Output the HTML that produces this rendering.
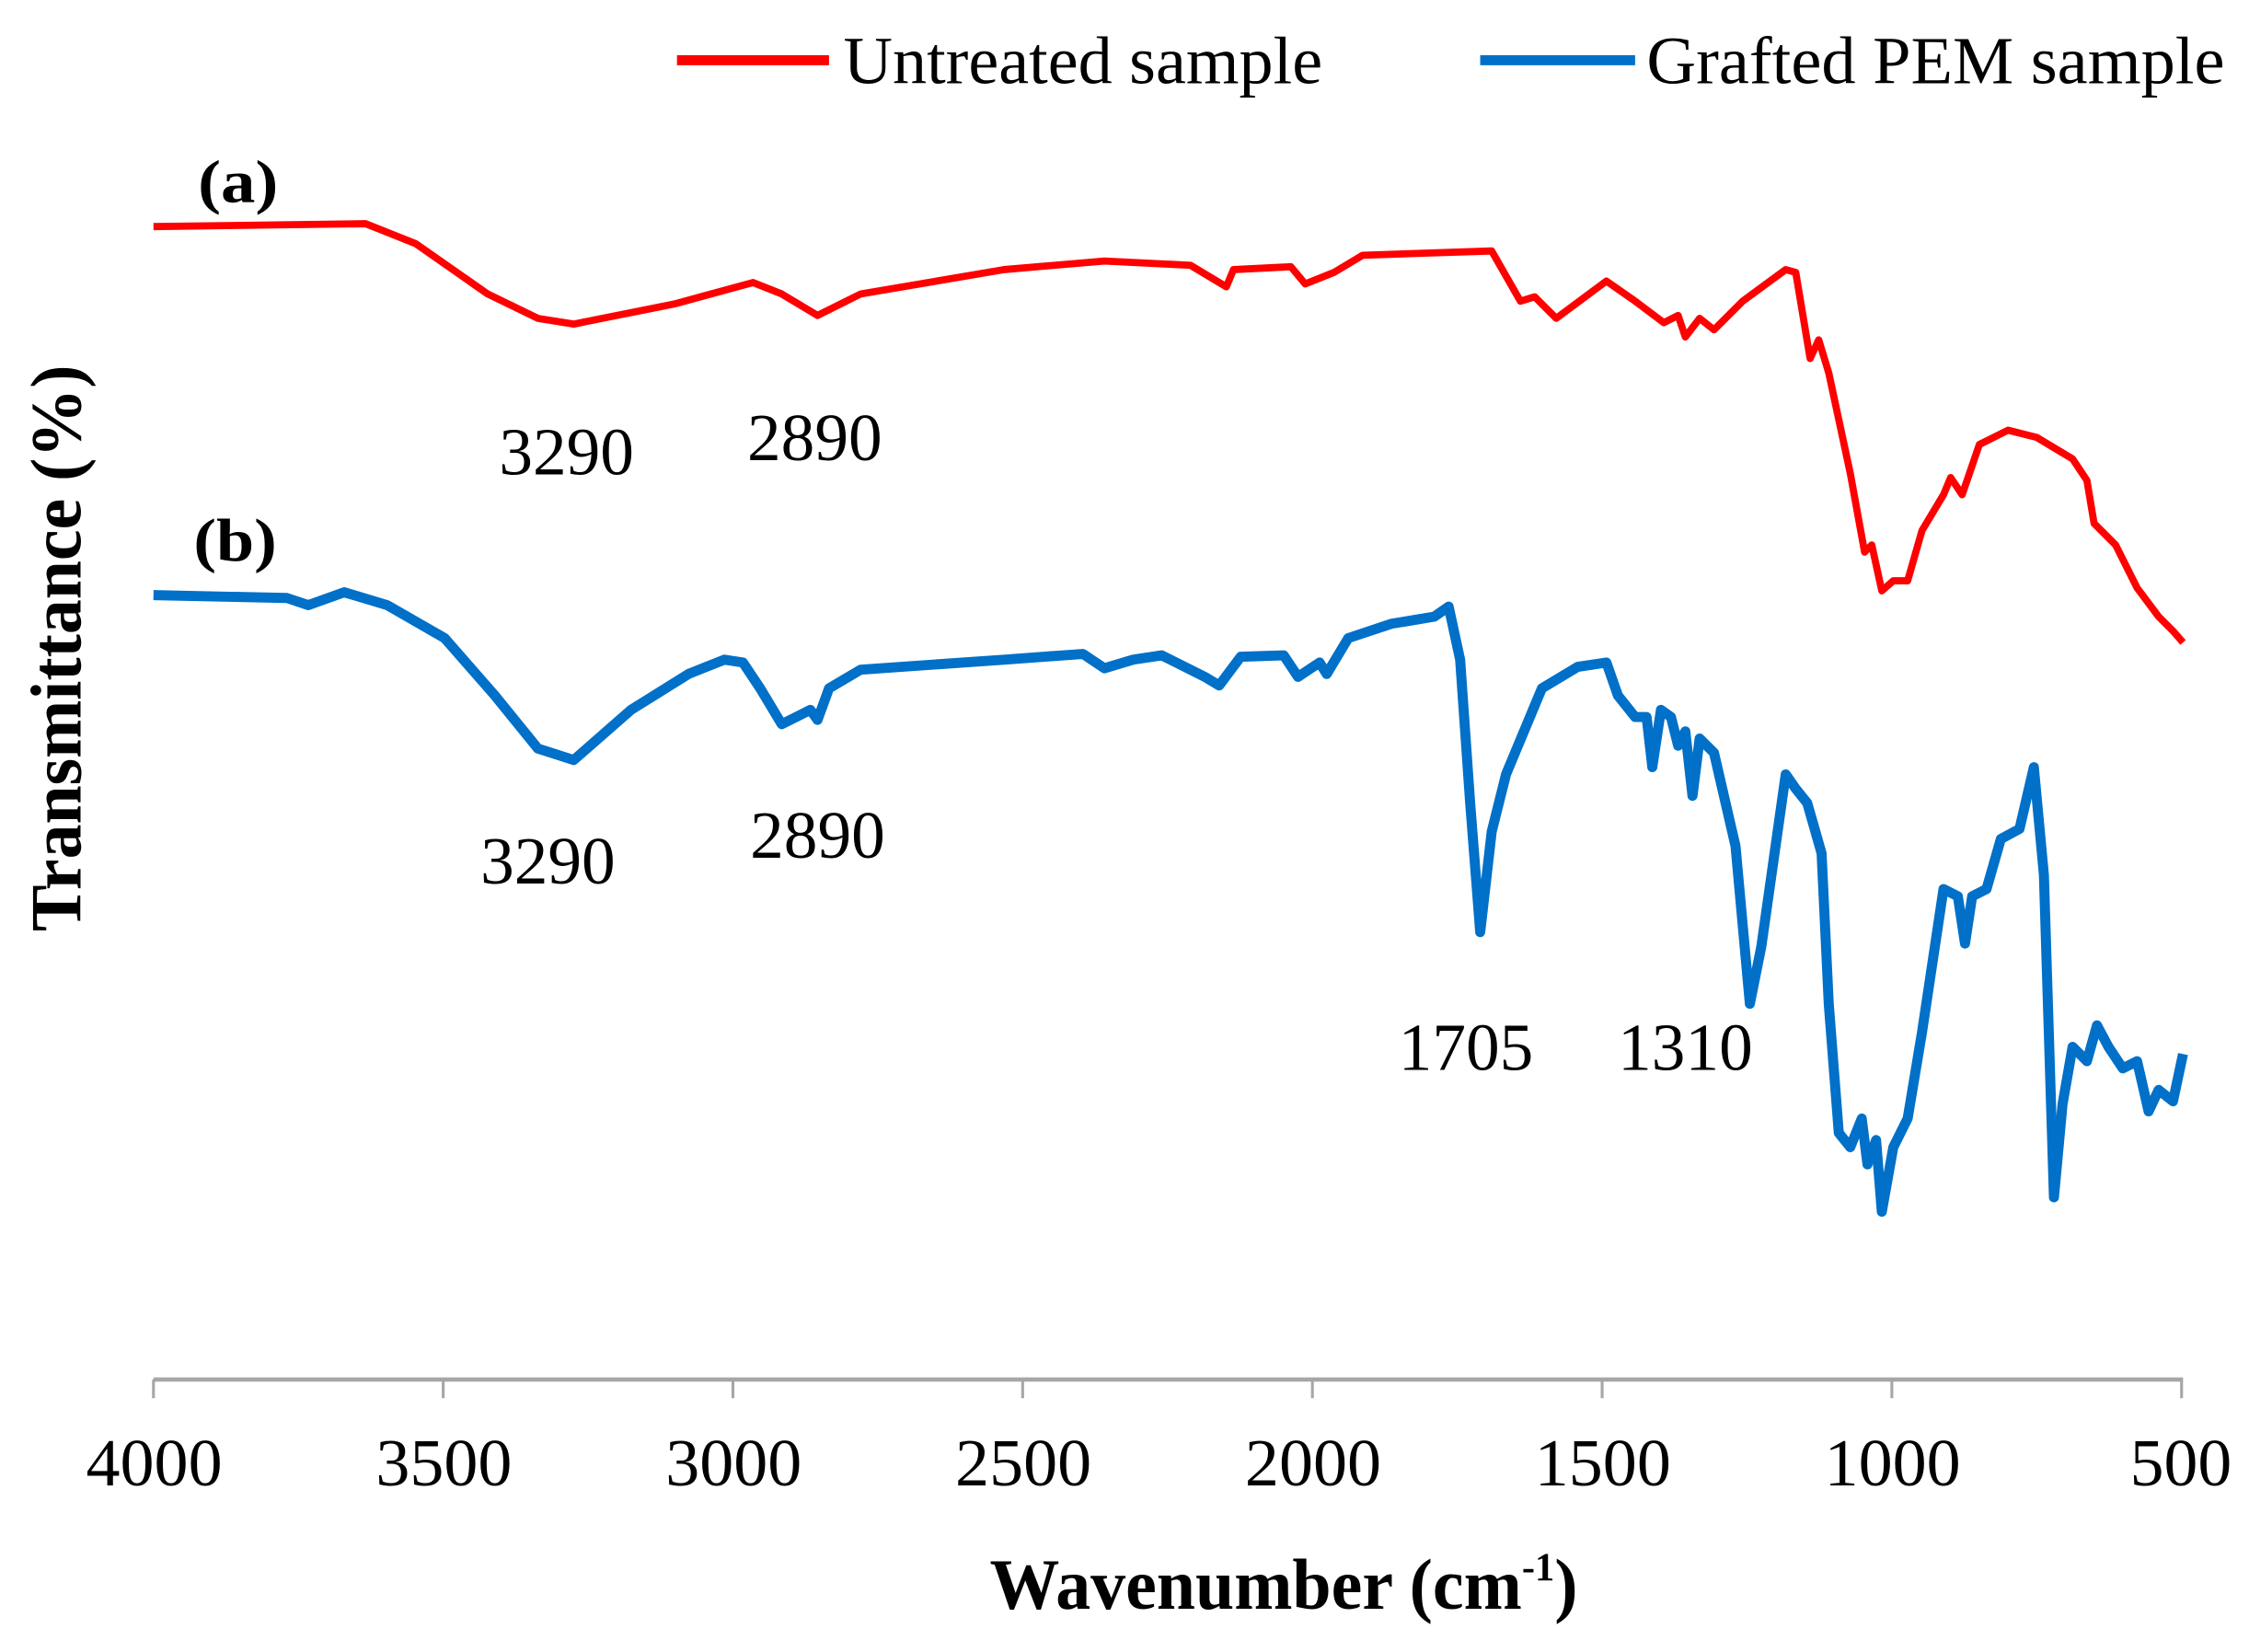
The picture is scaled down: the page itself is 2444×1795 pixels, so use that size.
<!DOCTYPE html>
<html><head><meta charset="utf-8"><style>html,body{margin:0;padding:0;background:#fff}svg{display:block}</style></head>
<body>
<svg width="2444" height="1795" viewBox="0 0 1568 1152" preserveAspectRatio="none" xmlns="http://www.w3.org/2000/svg" font-family="Liberation Serif, serif">
<rect width="1568" height="1152" fill="#fff"/>
<line x1="107" y1="962" x2="1522" y2="962" stroke="#a6a6a6" stroke-width="3"/>
<g stroke="#a6a6a6" stroke-width="2">
<line x1="107" y1="962" x2="107" y2="975"/><line x1="309" y1="962" x2="309" y2="975"/><line x1="511" y1="962" x2="511" y2="975"/><line x1="713" y1="962" x2="713" y2="975"/><line x1="915" y1="962" x2="915" y2="975"/><line x1="1117" y1="962" x2="1117" y2="975"/><line x1="1319" y1="962" x2="1319" y2="975"/><line x1="1521" y1="962" x2="1521" y2="975"/>
</g>
<g font-size="47" fill="#000">
<text x="60" y="1036" textLength="95" lengthAdjust="spacingAndGlyphs">4000</text>
<text x="262" y="1036" textLength="95" lengthAdjust="spacingAndGlyphs">3500</text>
<text x="464" y="1036" textLength="95" lengthAdjust="spacingAndGlyphs">3000</text>
<text x="666" y="1036" textLength="95" lengthAdjust="spacingAndGlyphs">2500</text>
<text x="868" y="1036" textLength="95" lengthAdjust="spacingAndGlyphs">2000</text>
<text x="1070" y="1036" textLength="95" lengthAdjust="spacingAndGlyphs">1500</text>
<text x="1272" y="1036" textLength="95" lengthAdjust="spacingAndGlyphs">1000</text>
<text x="1485" y="1036" textLength="71" lengthAdjust="spacingAndGlyphs">500</text>
</g>
<text x="690" y="1122" font-size="50" font-weight="bold" textLength="410" lengthAdjust="spacingAndGlyphs">Wavenumber (cm<tspan font-size="28" dy="-20">-1</tspan><tspan dy="20">)</tspan></text>
<text transform="translate(56,452) rotate(-90)" font-size="50" font-weight="bold" text-anchor="middle" textLength="395" lengthAdjust="spacingAndGlyphs">Transmittance (%)</text>
<line x1="472" y1="42" x2="578" y2="42" stroke="#ff0000" stroke-width="7"/>
<text x="588" y="58" font-size="47" textLength="334" lengthAdjust="spacingAndGlyphs">Untreated sample</text>
<line x1="1032" y1="42" x2="1140" y2="42" stroke="#0070c8" stroke-width="7"/>
<text x="1148" y="58" font-size="47" textLength="403" lengthAdjust="spacingAndGlyphs">Grafted PEM sample</text>
<text x="138" y="141" font-size="42" font-weight="bold" textLength="56" lengthAdjust="spacingAndGlyphs">(a)</text>
<text x="135" y="391" font-size="42" font-weight="bold" textLength="58" lengthAdjust="spacingAndGlyphs">(b)</text>
<g font-size="47">
<text x="348" y="331" textLength="94" lengthAdjust="spacingAndGlyphs">3290</text>
<text x="521" y="321" textLength="94" lengthAdjust="spacingAndGlyphs">2890</text>
<text x="335" y="616" textLength="94" lengthAdjust="spacingAndGlyphs">3290</text>
<text x="523" y="598" textLength="94" lengthAdjust="spacingAndGlyphs">2890</text>
<text x="975" y="746" textLength="94" lengthAdjust="spacingAndGlyphs">1705</text>
<text x="1128" y="746" textLength="94" lengthAdjust="spacingAndGlyphs">1310</text>
</g>
<polyline fill="none" stroke="#ff0000" stroke-width="5" stroke-linejoin="round" points="107,158 255,156 290,170 340,205 375,222 400,226 470,212 525,197 545,205 570,220 600,205 700,188 770,182 830,185 855,200 860,188 900,186 910,198 930,190 950,178 1040,175 1060,210 1070,207 1085,222 1120,196 1140,210 1160,225 1170,220 1175,235 1185,222 1195,230 1215,210 1245,188 1252,190 1262,250 1268,237 1275,260 1290,330 1300,385 1305,380 1312,412 1320,405 1330,405 1340,370 1355,345 1360,333 1368,345 1380,310 1400,300 1420,305 1445,320 1455,335 1460,365 1475,380 1490,410 1505,430 1515,440 1522,448"/>
<polyline fill="none" stroke="#0070c8" stroke-width="7" stroke-linejoin="round" points="107,415 200,417 215,422 240,413 270,422 310,445 345,485 375,522 400,530 440,495 480,470 505,460 518,462 530,480 545,505 555,500 565,495 570,502 578,480 600,467 700,460 755,456 770,466 790,460 810,457 840,472 850,478 865,458 895,457 905,472 920,462 925,470 940,445 970,435 1000,430 1010,423 1018,460 1025,560 1032,650 1040,580 1050,540 1075,480 1100,465 1120,462 1128,485 1140,500 1148,500 1152,535 1158,495 1165,500 1170,520 1175,510 1180,555 1185,515 1195,525 1210,590 1220,700 1228,660 1245,540 1252,550 1260,560 1270,595 1275,700 1282,790 1290,800 1298,780 1302,812 1308,795 1312,845 1320,800 1330,780 1340,720 1355,620 1365,625 1370,658 1375,625 1385,620 1395,585 1408,578 1418,535 1425,610 1432,835 1438,770 1445,730 1455,740 1462,715 1470,730 1480,745 1490,740 1498,775 1505,760 1515,768 1522,735"/>
</svg>
</body></html>
